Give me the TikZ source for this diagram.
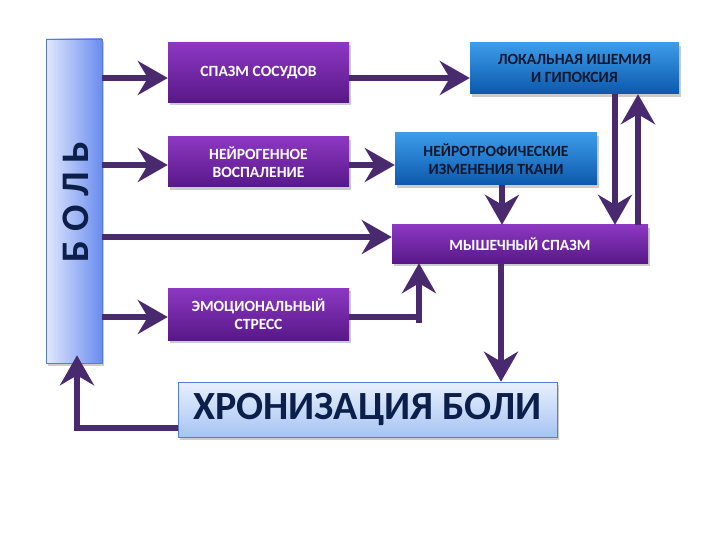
\documentclass[tikz,border=0pt]{standalone}
\usepackage{fontspec}
\setmainfont{Carlito}
\usetikzlibrary{arrows.meta,shadows,calc}
\definecolor{arrowc}{HTML}{4A2A6E}
\definecolor{purpT}{HTML}{8C38C2}
\definecolor{purpM}{HTML}{7222AA}
\definecolor{purpB}{HTML}{581888}
\definecolor{blueT}{HTML}{3C9CEA}
\definecolor{blueM}{HTML}{1F7ED6}
\definecolor{blueB}{HTML}{0C58AC}
\definecolor{navy}{HTML}{0B1F4A}
\definecolor{darknavy}{HTML}{101830}
\definecolor{lightL}{HTML}{E2E9FC}
\definecolor{lightR}{HTML}{6A8CEE}
\definecolor{lborder}{HTML}{5A7AD8}
\definecolor{chronT}{HTML}{E8F0FD}
\definecolor{chronB}{HTML}{A6C4F2}
\tikzset{
  shad/.style={drop shadow={opacity=0.4,shadow xshift=2pt,shadow yshift=-3pt}},
  purplebox/.style={shad,rectangle,top color=purpT,middle color=purpM,bottom color=purpB,draw=none,
     text=white,font=\bfseries\fontsize{15.6}{18}\selectfont,align=center,inner sep=0pt},
  bluebox/.style={shad,rectangle,top color=blueT,middle color=blueM,bottom color=blueB,draw=none,
     text=darknavy,font=\bfseries\fontsize{15.6}{18}\selectfont,align=center,inner sep=0pt},
  arr/.style={draw=arrowc,line width=6pt,-{Stealth[length=30pt,width=34pt,inset=10pt,fill=arrowc]}},
  plainline/.style={draw=arrowc,line width=6pt}
}
\begin{document}
\begin{tikzpicture}[x=1pt,y=-1pt]
\useasboundingbox (0,0) rectangle (720,540);
% nodes
\node[shad,rectangle,left color=lightL,right color=lightR,draw=lborder,line width=0.6pt,
      minimum width=56pt,minimum height=324pt,inner sep=0pt] (bol) at (74,201) {};
\node[rotate=90,text=navy,font=\bfseries\fontsize{39}{40}\selectfont] (boltxt) at (76,202) {Б О Л Ь};
\node[purplebox,minimum width=181pt,minimum height=60pt] (spazm) at (258.5,72.5) {СПАЗМ СОСУДОВ};
\node[purplebox,minimum width=181pt,minimum height=50pt] (neiro) at (258.5,162) {НЕЙРОГЕННОЕ\\ВОСПАЛЕНИЕ};
\node[purplebox,minimum width=181pt,minimum height=52pt] (emo) at (258.5,314) {ЭМОЦИОНАЛЬНЫЙ\\СТРЕСС};
\node[bluebox,minimum width=209pt,minimum height=51pt] (lok) at (574.5,68.5) {ЛОКАЛЬНАЯ ИШЕМИЯ\\И ГИПОКСИЯ};
\node[bluebox,minimum width=202pt,minimum height=52pt] (trof) at (496,159) {НЕЙРОТРОФИЧЕСКИЕ\\ИЗМЕНЕНИЯ ТКАНИ};
\node[purplebox,minimum width=256pt,minimum height=38pt] (mysh) at (520,244) {МЫШЕЧНЫЙ СПАЗМ};
\node[shad,rectangle,top color=chronT,bottom color=chronB,draw=lborder,line width=0.6pt,
      minimum width=379pt,minimum height=55pt,inner sep=0pt,text=navy,
      font=\bfseries\fontsize{40}{42}\selectfont] (chron) at (367.5,409.5) {ХРОНИЗАЦИЯ БОЛИ\hspace{10pt}};
% helper coordinates
\coordinate (emoCorner) at (419,317);
\coordinate (chronCorner) at (77,428);
% connectors
\draw[arr] ([yshift=-5.5pt]bol.east |- spazm.west) -- ([yshift=-5.5pt]spazm.west);
\draw[arr] ([yshift=-3pt]bol.east |- neiro.west) -- ([yshift=-3pt]neiro.west);
\draw[arr] ([yshift=7pt]bol.east |- mysh.west) -- ([yshift=7pt]mysh.west);
\draw[arr] ([yshift=-3pt]bol.east |- emo.west) -- ([yshift=-3pt]emo.west);
\draw[arr] ([yshift=-5.5pt]spazm.east) -- ([yshift=-9.5pt]lok.west);
\draw[arr] ([yshift=-3pt]neiro.east) -- ([yshift=-6pt]trof.west);
\draw[arr] ([xshift=6pt]trof.south) -- ([xshift=6pt]trof.south |- mysh.north);
\draw[arr] (lok.south -| 615,0) -- (mysh.north -| 615,0);
\draw[arr] (mysh.north -| 638,0) -- (lok.south -| 638,0);
\draw[plainline] ([yshift=-3pt]emo.east) -- ([xshift=3pt]emoCorner);
\draw[plainline] (emoCorner) -- ++(0,6);
\draw[arr] ([yshift=3pt]emoCorner) -- (mysh.south -| emoCorner);
\draw[arr] (mysh.south -| 501,0) -- (chron.north -| 501,0);
\draw[plainline] ([yshift=-18.5pt]chron.west) -- ([xshift=-3pt]chronCorner);
\draw[arr] ([yshift=3pt]chronCorner) -- ([yshift=8pt]bol.south -| chronCorner);
\end{tikzpicture}
\end{document}
